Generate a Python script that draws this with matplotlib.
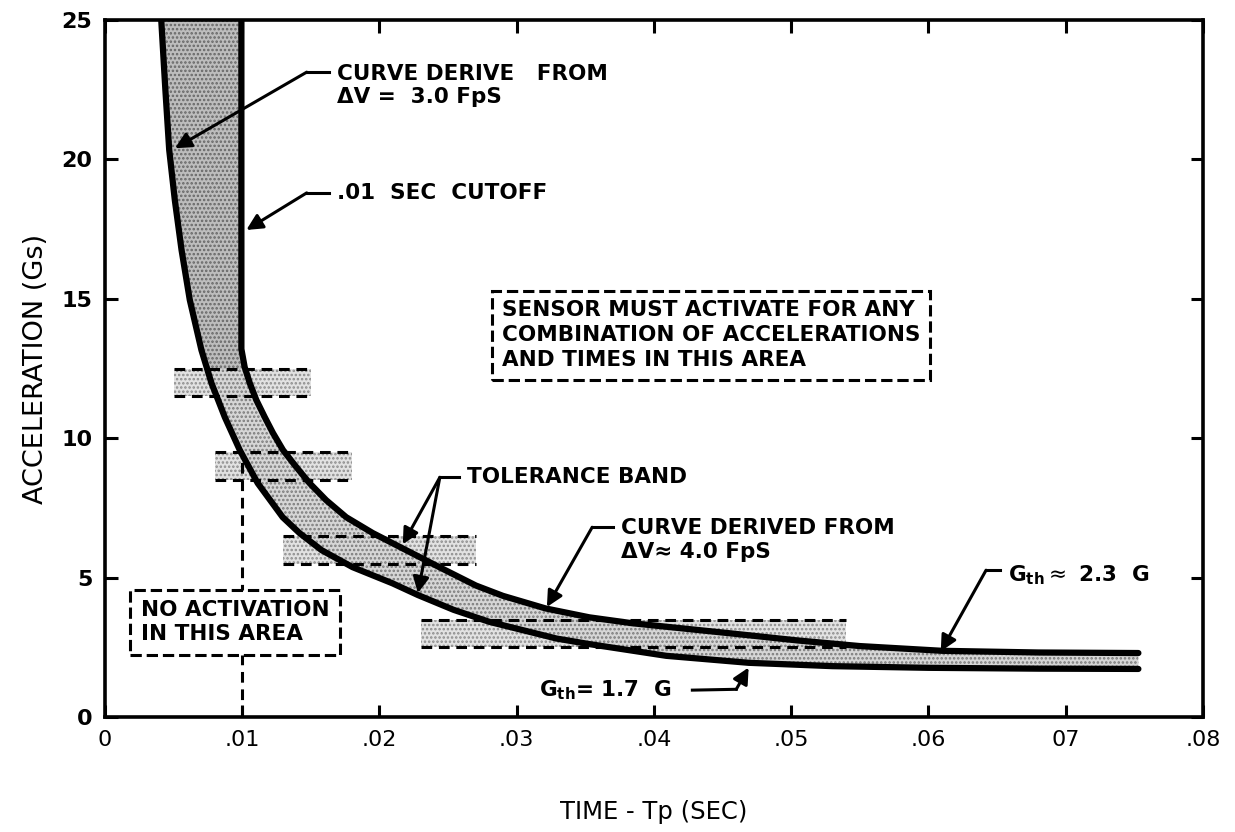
import matplotlib.pyplot as plt
from matplotlib.patches import Rectangle

plt.rcParams['font.family'] = ['DejaVu Sans']
plt.rcParams['mathtext.fontset'] = 'dejavusans'
plt.rcParams['hatch.linewidth'] = 1.2

# lower bound curve (derived from dV = 3.0 fps), time in sec / accel in G
low_t = [0.0041, 0.0044, 0.00468, 0.00509, 0.00558, 0.00618, 0.00703, 0.00776,
         0.00873, 0.00982, 0.01113, 0.01295, 0.01418, 0.01578, 0.01804, 0.02095,
         0.0228, 0.0254, 0.0280, 0.0329, 0.0353, 0.0409, 0.0469, 0.0530, 0.0600,
         0.0680, 0.0753]
low_g = [25.0, 22.5, 20.34, 18.54, 16.75, 14.96, 13.16, 11.98,
         10.76, 9.58, 8.39, 7.17, 6.6, 5.99, 5.38, 4.8,
         4.38, 3.85, 3.42, 2.82, 2.62, 2.2, 1.95, 1.83, 1.77,
         1.74, 1.73]

# upper bound curve (.01 sec cutoff, then dV = 4.0 fps)
up_t = [0.00994, 0.00994, 0.01018, 0.01055, 0.01103, 0.01164, 0.01224, 0.01297,
        0.01394, 0.01491, 0.01612, 0.01758, 0.01952, 0.02194, 0.02436, 0.02703,
        0.0290, 0.0321, 0.0353, 0.0384, 0.0457, 0.0505, 0.0550, 0.0610, 0.0680,
        0.0753]
up_g = [25.0, 13.2, 12.55, 11.98, 11.37, 10.76, 10.19, 9.58,
        8.97, 8.39, 7.78, 7.17, 6.6, 5.99, 5.38, 4.72,
        4.35, 3.9, 3.58, 3.37, 3.00, 2.75, 2.55, 2.38, 2.32,
        2.30]

# tolerance band boxes
box_t0 = [0.005, 0.008, 0.013, 0.023]
box_t1 = [0.015, 0.018, 0.027, 0.054]
box_lo = [11.5, 8.5, 5.5, 2.5]
box_hi = [12.5, 9.5, 6.5, 3.5]

cutoff_t = 0.01
cutoff_top = 9.5

xticks = [0, 0.01, 0.02, 0.03, 0.04, 0.05, 0.06, 0.07, 0.08]
xtick_labels = ['0', '.01', '.02', '.03', '.04', '.05', '.06', '07', '.08']
yticks = [0, 5, 10, 15, 20, 25]

fig = plt.figure(figsize=(12.35, 8.32), dpi=100)
ax = fig.add_axes([0.085, 0.138, 0.889, 0.838])

dash = (0, (3.5, 2.2))
fs = 15.5

### tolerance boxes
for t0, t1, lo, hi in zip(box_t0, box_t1, box_lo, box_hi):
    ax.fill_between([t0, t1], [lo, lo], [hi, hi], facecolor='#e2e2e2',
                    edgecolor='#8c8c8c', hatch='....', lw=0, zorder=1)
    ax.hlines([lo, hi], t0, t1, colors='k', linestyles=dash, lw=2.2, zorder=4)

### shaded band between the two curves (darker above the boxes)
band_t = low_t + up_t[::-1]
band_g = low_g + up_g[::-1]
ax.fill(band_t, band_g, facecolor='#d6d6d6', edgecolor='#7a7a7a',
        hatch='....', lw=0, zorder=2)
top_part = ax.fill(band_t, band_g, facecolor='#bdbdbd', edgecolor='#666666',
                   hatch='....', lw=0, zorder=2)[0]
top_part.set_clip_path(Rectangle((0, 12.5), 0.02, 13, transform=ax.transData))

ax.plot(low_t, low_g, color='k', lw=4.5, solid_capstyle='round', zorder=3)
ax.plot(up_t, up_g, color='k', lw=4.5, solid_capstyle='round', zorder=3)

ax.vlines(cutoff_t, 0, cutoff_top, colors='k', linestyles=dash, lw=2.2, zorder=2)

### text boxes
ax.text(0.0026, 3.4, 'NO ACTIVATION\nIN THIS AREA', fontsize=fs,
        fontweight='bold', ha='left', va='center', linespacing=1.25,
        bbox=dict(boxstyle='square,pad=0.5', fc='white', ec='k',
                  ls='--', lw=2.2), zorder=5)
ax.text(0.0289, 13.7,
        'SENSOR MUST ACTIVATE FOR ANY\nCOMBINATION OF ACCELERATIONS\nAND TIMES IN THIS AREA',
        fontsize=fs, fontweight='bold', ha='left', va='center', linespacing=1.3,
        bbox=dict(boxstyle='square,pad=0.45', fc='white', ec='k',
                  ls='--', lw=2.2), zorder=5)

arrow = dict(arrowstyle='-|>', color='k', lw=2.2, mutation_scale=24,
             shrinkA=0, shrinkB=0)


def leader(text_xy, elbow_x, heads):
    ax.plot([elbow_x, text_xy[0] - 0.0006], [text_xy[1], text_xy[1]],
            color='k', lw=2.2, zorder=6)
    for h in heads:
        ax.annotate('', xy=h, xytext=(elbow_x, text_xy[1]),
                    arrowprops=arrow, zorder=6)


ax.text(0.0169, 22.65, 'CURVE DERIVE   FROM\n\u0394V =  3.0 FpS', fontsize=fs,
        fontweight='bold', ha='left', va='center', linespacing=1.2)
leader((0.0169, 23.13), 0.0147, [(0.0051, 20.4)])

ax.text(0.0169, 18.8, '.01  SEC  CUTOFF', fontsize=fs, fontweight='bold',
        ha='left', va='center')
leader((0.0169, 18.8), 0.0147, [(0.0103, 17.47)])

ax.text(0.0264, 8.6, 'TOLERANCE BAND', fontsize=fs, fontweight='bold',
        ha='left', va='center')
leader((0.0264, 8.6), 0.0244, [(0.0217, 6.2), (0.0228, 4.45)])

ax.text(0.0376, 6.35, 'CURVE DERIVED FROM\n\u0394V\u2248 4.0 FpS', fontsize=fs,
        fontweight='bold', ha='left', va='center', linespacing=1.2)
leader((0.0376, 6.81), 0.0355, [(0.0322, 3.95)])

ax.text(0.0658, 5.1, r'G$_{\mathbf{th}}$$\approx$ 2.3  G', fontsize=fs,
        fontweight='bold', ha='left', va='center')
leader((0.0658, 5.27), 0.0642, [(0.0609, 2.36)])

ax.text(0.0316, 0.95, r'G$_{\mathbf{th}}$= 1.7  G', fontsize=fs,
        fontweight='bold', ha='left', va='center')
ax.plot([0.0428, 0.0460], [0.97, 1.0], color='k', lw=2.2, zorder=6)
ax.annotate('', xy=(0.0469, 1.78), xytext=(0.0460, 1.0), arrowprops=arrow, zorder=6)

### axes
ax.set_xlim(0, 0.08)
ax.set_ylim(0, 25)
ax.set_xticks(xticks)
ax.set_xticklabels(xtick_labels)
ax.set_yticks(yticks)
ax.tick_params(direction='in', length=9, width=2.2, top=True, right=True,
               labelsize=16, pad=9)
for lab in ax.get_yticklabels():
    lab.set_fontweight('bold')
for s in ax.spines.values():
    s.set_linewidth(2.6)

ax.set_xlabel('TIME - Tp (SEC)', fontsize=17.5, labelpad=36)
ax.set_ylabel('ACCELERATION (Gs)', fontsize=19.5, labelpad=9)

fig.savefig('out.png', dpi=100)
